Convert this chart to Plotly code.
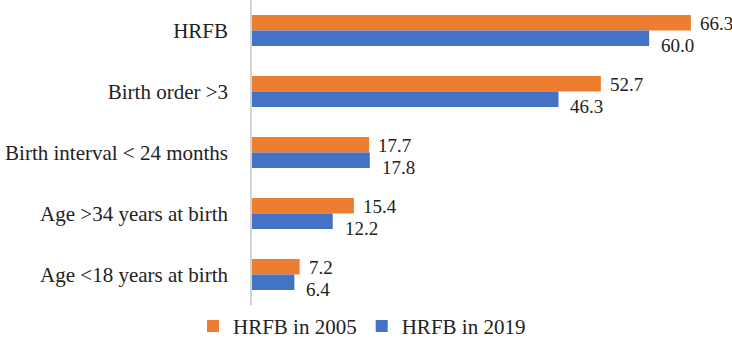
import plotly.graph_objects as go

categories = ["HRFB", "Birth order >3", "Birth interval < 24 months",
              "Age >34 years at birth", "Age <18 years at birth"]
hrfb_2005 = [66.3, 52.7, 17.7, 15.4, 7.2]
hrfb_2019 = [60.0, 46.3, 17.8, 12.2, 6.4]
series_names = ["HRFB in 2005", "HRFB in 2019"]

ORANGE = "#ED7D31"
BLUE = "#4472C4"
FONT = "Liberation Serif"

fig = go.Figure()
fig.add_trace(go.Bar(y=categories, x=hrfb_2005, orientation="h", name=series_names[0],
                     marker=dict(color=ORANGE, line=dict(width=0))))
fig.add_trace(go.Bar(y=categories, x=hrfb_2019, orientation="h", name=series_names[1],
                     marker=dict(color=BLUE, line=dict(width=0))))

annotations = []
for c, v in zip(categories, hrfb_2005):
    annotations.append(dict(x=v, y=c, xref="x", yref="y", text=f"{v:.1f}", showarrow=False,
                            xanchor="left", yanchor="middle", xshift=7, yshift=7,
                            font=dict(family=FONT, size=19, color="#222")))
for c, v in zip(categories, hrfb_2019):
    annotations.append(dict(x=v, y=c, xref="x", yref="y", text=f"{v:.1f}", showarrow=False,
                            xanchor="left", yanchor="middle", xshift=10, yshift=-15,
                            font=dict(family=FONT, size=19, color="#222")))

fig.update_layout(
    width=732, height=346,
    margin=dict(l=252, r=10, t=0, b=41, autoexpand=False),
    paper_bgcolor="white", plot_bgcolor="white",
    barmode="group", bargap=0.49, bargroupgap=0,
    font=dict(family=FONT, size=21, color="#222"),
    xaxis=dict(range=[0, 71], visible=False, showgrid=False, zeroline=False),
    yaxis=dict(autorange="reversed", showline=True, linecolor="#d4d4d4", linewidth=1.5,
               ticks="", ticklabelstandoff=18, showgrid=False, automargin=False,
               tickfont=dict(family=FONT, size=21, color="#222")),
    legend=dict(orientation="h", x=(362 - 252) / 470, xanchor="center", y=-0.07, yanchor="middle",
                font=dict(family=FONT, size=21, color="#222"), itemwidth=30,
                traceorder="normal"),
    annotations=annotations,
    showlegend=True,
    hovermode=False,
)

fig.write_html("out.html", config={"displayModeBar": False},
               post_script="document.body.style.margin='0';")
